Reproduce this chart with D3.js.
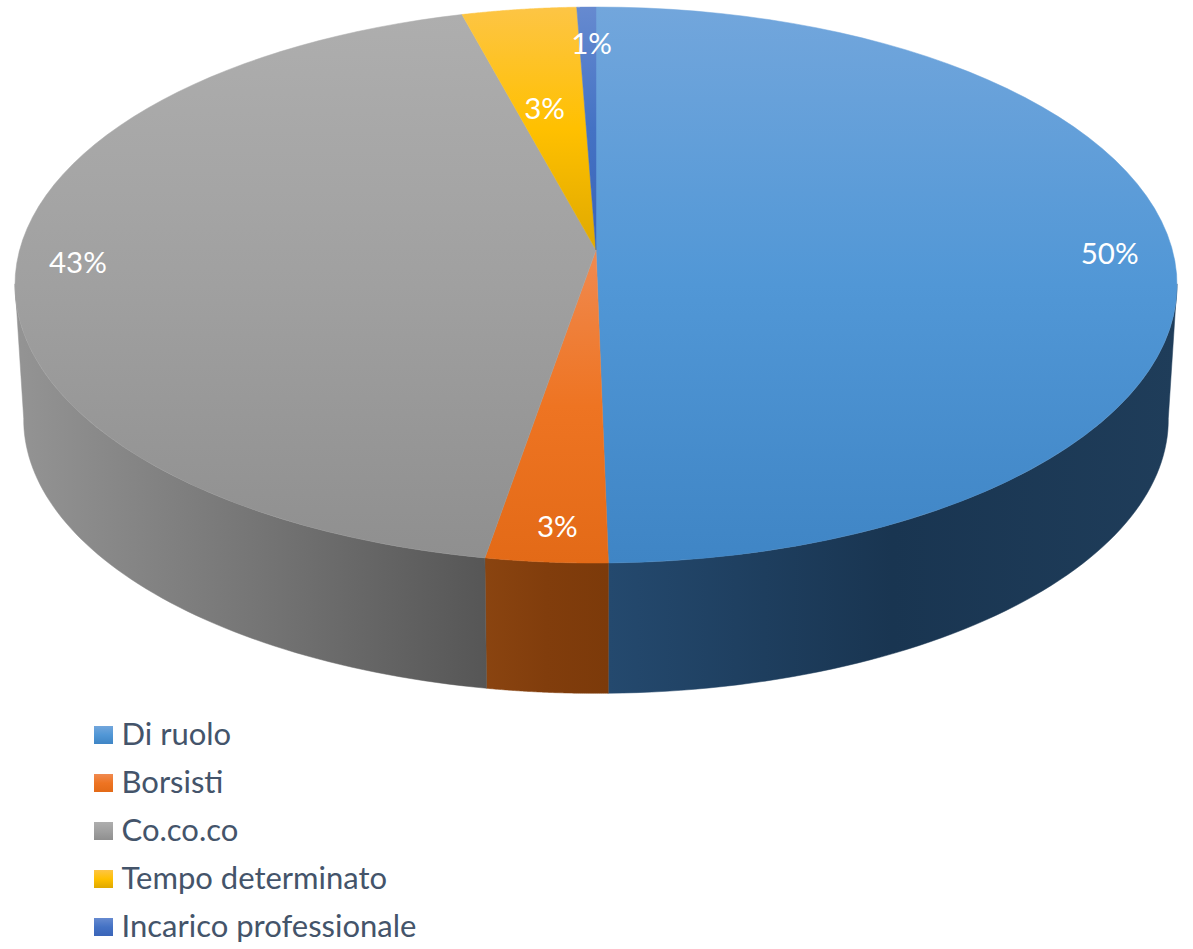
<!DOCTYPE html>
<html><head><meta charset="utf-8">
<style>html,body{margin:0;padding:0;background:#fff}svg{display:block}text{font-family:Lato,"Open Sans",sans-serif}</style>
<script src="https://cdn.jsdelivr.net/npm/d3@7/dist/d3.min.js"></script>
</head><body><svg id="c" width="1193" height="949"></svg>
<script>
const categories = ["Di ruolo","Borsisti","Co.co.co","Tempo determinato","Incarico professionale"];
const shares = [49.7,3.0,43.1,3.6,0.6];
const labels = ["50%","3%","43%","3%","1%"];
const faceStops = [["#72a6dc","#5197d6","#3f85c5"],["#f08a50","#ee7422","#e36a17"],["#aeaeae","#a0a0a0","#8f8f8f"],["#fdc545","#ffc000","#dfa900"],["#668ad0","#4472c4","#3a64b8"]];
const wallStops = [["#24496e","#193551","#1f3d5a"],["#8a4410","#813d0c","#7c3a0a"],["#949494","#767676","#565656"],["#7f6000","#7f6000","#7f6000"],["#203864","#203864","#203864"]];
const labelRadius = [0.89,0.895,0.895,0.565,0.84];
const labelTurn = [1.2,-0.5,0,-1.1,0.5];

// perspective projection of the tilted disc
const apex={x:596,y:250}, A=576.4, B=273.6, k=-0.126, wall={dy:135,s:0.985};
function topRim(theta,r=1){const u=r*Math.sin(theta),v=-r*Math.cos(theta),w=1+k*v;return [apex.x+A*u/w,apex.y+B*v/w];}
function bottomRim(theta){const p=topRim(theta);return [apex.x+wall.s*(p[0]-apex.x),apex.y+wall.dy+wall.s*(p[1]-apex.y)];}
const rim=(a,b,f)=>d3.range(0,65).map(i=>f(a+(b-a)*i/64));

const svg=d3.select("#c"),defs=svg.append("defs");
const arcs=d3.pie().sort(null).value(d=>d)(shares);
function grad(id,stops,x2,y2){
  const g=defs.append("linearGradient").attr("id",id).attr("x1",0).attr("y1",0).attr("x2",x2).attr("y2",y2);
  stops.forEach((c,i)=>g.append("stop").attr("offset",i/2).attr("stop-color",c));
}
categories.forEach((c,i)=>{grad("f"+i,faceStops[i],0,1);grad("w"+i,wallStops[i],1,0);});
const line=d3.line().curve(d3.curveLinear);
const rad=d=>d*Math.PI/180;

const vis=[rad(97),rad(263)];
const orderedWalls=arcs.map((d,i)=>({d,i}));
svg.append("g").selectAll("path").data(orderedWalls.filter(o=>o.d.endAngle>vis[0]&&o.d.startAngle<vis[1])).join("path")
  .attr("fill",o=>`url(#w${o.i})`).attr("stroke",o=>`url(#w${o.i})`).attr("stroke-width",0.5)
  .attr("d",o=>{const a=Math.max(o.d.startAngle,vis[0]),b=Math.min(o.d.endAngle,vis[1]);
    return line(rim(a,b,topRim).concat(rim(a,b,bottomRim).reverse()))+"Z";});
svg.append("g").selectAll("path").data(arcs).join("path")
  .attr("fill",(d,i)=>`url(#f${i})`).attr("stroke",(d,i)=>`url(#f${i})`).attr("stroke-width",0.5)
  .attr("d",d=>line([[apex.x,apex.y]].concat(rim(d.startAngle,d.endAngle,topRim)))+"Z");
const labelPos=(d,i)=>topRim((d.startAngle+d.endAngle)/2+rad(labelTurn[i]),labelRadius[i]);
svg.append("g").selectAll("text").data(arcs).join("text")
  .attr("text-anchor","middle").attr("dominant-baseline","central").attr("fill","#fff").attr("font-size",29.5)
  .attr("x",(d,i)=>labelPos(d,i)[0])
  .attr("y",(d,i)=>labelPos(d,i)[1])
  .text((d,i)=>labels[i]);

const ly=d3.scalePoint().domain(categories).range([735,927]);
const lg=svg.append("g").selectAll("g").data(categories).join("g").attr("transform",d=>`translate(94,${ly(d)})`);
lg.append("rect").attr("x",0).attr("y",-9).attr("width",19).attr("height",18).attr("fill",(d,i)=>`url(#f${i})`);
lg.append("text").attr("x",27.5).attr("y",-2).attr("dominant-baseline","central").attr("fill","#44546a").attr("font-size",31).text(d=>d);
</script></body></html>
